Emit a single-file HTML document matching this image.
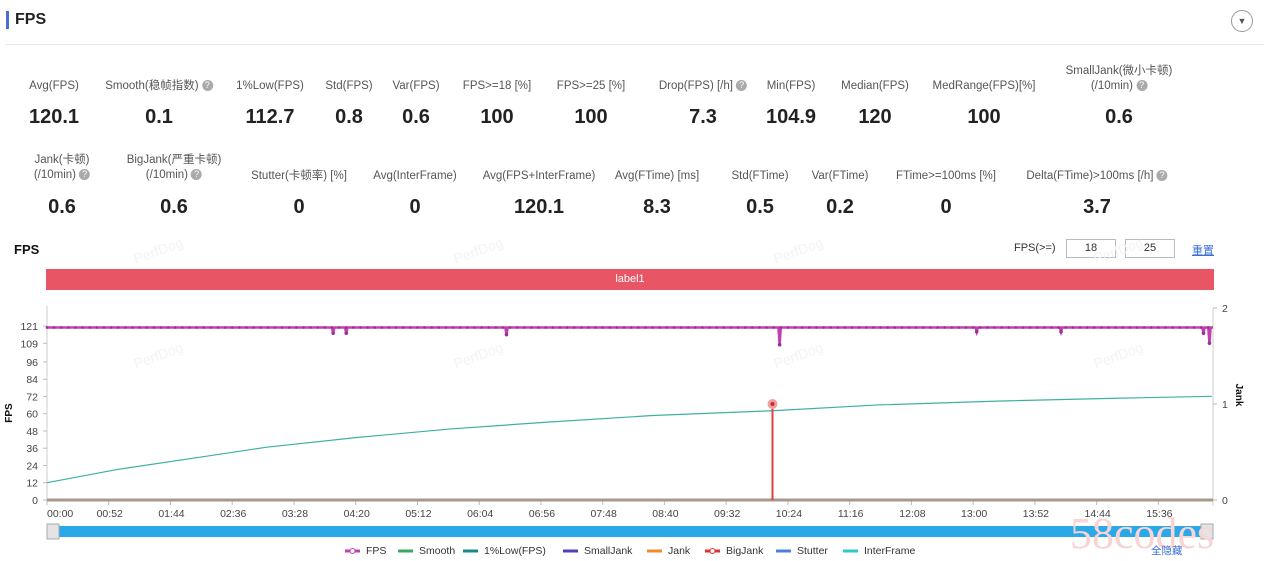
<!DOCTYPE html>
<html><head><meta charset="utf-8"><style>
body{margin:0;width:1271px;height:561px;background:#fff;position:relative;overflow:hidden;font-family:"Liberation Sans","Noto Sans CJK SC",sans-serif;color:#333}
.a{position:absolute;white-space:nowrap;transform:translateX(-50%);text-align:center}
.l{font-size:11.5px;color:#555;line-height:15px}
.v{font-size:20px;font-weight:bold;color:#222}
.q{display:inline-block;width:11px;height:11px;border-radius:50%;background:#aaa;color:#fff;font-size:9px;line-height:11px;text-align:center;vertical-align:middle}
svg{position:absolute;left:0;top:0}
</style></head><body>
<div style="position:absolute;left:6px;top:11px;width:3px;height:18px;background:#4a6fd0"></div>
<div style="position:absolute;left:15px;top:11px;font-size:16px;font-weight:bold;color:#222">FPS</div>
<div style="position:absolute;left:1231px;top:10px;width:20px;height:20px;border:1px solid #999;border-radius:50%;text-align:center;font-size:9px;line-height:20px;color:#555">▼</div>
<div style="position:absolute;left:6px;top:44px;width:1258px;height:1px;background:#e6e6e6"></div>

<div><div class="a l" style="left:54px;top:79px">Avg(FPS)</div><div class="a v" style="left:54px;top:106px">120.1</div></div>
<div><div class="a l" style="left:159px;top:79px">Smooth(稳帧指数) <span class="q">?</span></div><div class="a v" style="left:159px;top:106px">0.1</div></div>
<div><div class="a l" style="left:270px;top:79px">1%Low(FPS)</div><div class="a v" style="left:270px;top:106px">112.7</div></div>
<div><div class="a l" style="left:349px;top:79px">Std(FPS)</div><div class="a v" style="left:349px;top:106px">0.8</div></div>
<div><div class="a l" style="left:416px;top:79px">Var(FPS)</div><div class="a v" style="left:416px;top:106px">0.6</div></div>
<div><div class="a l" style="left:497px;top:79px">FPS&gt;=18 [%]</div><div class="a v" style="left:497px;top:106px">100</div></div>
<div><div class="a l" style="left:591px;top:79px">FPS&gt;=25 [%]</div><div class="a v" style="left:591px;top:106px">100</div></div>
<div><div class="a l" style="left:703px;top:79px">Drop(FPS) [/h] <span class="q">?</span></div><div class="a v" style="left:703px;top:106px">7.3</div></div>
<div><div class="a l" style="left:791px;top:79px">Min(FPS)</div><div class="a v" style="left:791px;top:106px">104.9</div></div>
<div><div class="a l" style="left:875px;top:79px">Median(FPS)</div><div class="a v" style="left:875px;top:106px">120</div></div>
<div><div class="a l" style="left:984px;top:79px">MedRange(FPS)[%]</div><div class="a v" style="left:984px;top:106px">100</div></div>
<div><div class="a l" style="left:1119px;top:64px">SmallJank(微小卡顿)<br>(/10min) <span class="q">?</span></div><div class="a v" style="left:1119px;top:106px">0.6</div></div>

<div><div class="a l" style="left:62px;top:153px">Jank(卡顿)<br>(/10min) <span class="q">?</span></div><div class="a v" style="left:62px;top:196px">0.6</div></div>
<div><div class="a l" style="left:174px;top:153px">BigJank(严重卡顿)<br>(/10min) <span class="q">?</span></div><div class="a v" style="left:174px;top:196px">0.6</div></div>
<div><div class="a l" style="left:299px;top:169px">Stutter(卡顿率) [%]</div><div class="a v" style="left:299px;top:196px">0</div></div>
<div><div class="a l" style="left:415px;top:169px">Avg(InterFrame)</div><div class="a v" style="left:415px;top:196px">0</div></div>
<div><div class="a l" style="left:539px;top:169px">Avg(FPS+InterFrame)</div><div class="a v" style="left:539px;top:196px">120.1</div></div>
<div><div class="a l" style="left:657px;top:169px">Avg(FTime) [ms]</div><div class="a v" style="left:657px;top:196px">8.3</div></div>
<div><div class="a l" style="left:760px;top:169px">Std(FTime)</div><div class="a v" style="left:760px;top:196px">0.5</div></div>
<div><div class="a l" style="left:840px;top:169px">Var(FTime)</div><div class="a v" style="left:840px;top:196px">0.2</div></div>
<div><div class="a l" style="left:946px;top:169px">FTime&gt;=100ms [%]</div><div class="a v" style="left:946px;top:196px">0</div></div>
<div><div class="a l" style="left:1097px;top:169px">Delta(FTime)&gt;100ms [/h] <span class="q">?</span></div><div class="a v" style="left:1097px;top:196px">3.7</div></div>

<div style="position:absolute;left:14px;top:242px;font-size:13px;font-weight:bold;color:#111">FPS</div>
<div style="position:absolute;left:1014px;top:242px;font-size:11px;color:#333">FPS(&gt;=)</div>
<div style="position:absolute;left:1066px;top:239px;width:48px;height:17px;border:1px solid #bbb;font-size:11px;text-align:center;line-height:17px">18</div>
<div style="position:absolute;left:1125px;top:239px;width:48px;height:17px;border:1px solid #bbb;font-size:11px;text-align:center;line-height:17px">25</div>
<div style="position:absolute;left:1192px;top:242px;font-size:11px;color:#3a6fd8;text-decoration:underline">重置</div>
<div style="position:absolute;left:46px;top:269px;width:1168px;height:21px;background:#e85565;color:#fff;font-size:11px;text-align:center;line-height:21px">label1</div>

<svg id="chart" width="1271" height="561"></svg>
<script>
const xTicks=["00:00","00:52","01:44","02:36","03:28","04:20","05:12","06:04","06:56","07:48","08:40","09:32","10:24","11:16","12:08","13:00","13:52","14:44","15:36"];
const yTicks=[0,12,24,36,48,60,72,84,96,109,121];
const jankTicks=[0,1,2];
const fpsDipTimes=[241,252,387,617,783,854,974,979];
const fpsDipValues=[116,116,115,108,117,117,116,109];
const interTimes=[0,60,131,185,260,340,420,510,611,700,800,900,981];
const interValues=[0.18,0.32,0.45,0.55,0.65,0.74,0.81,0.88,0.93,0.99,1.03,1.06,1.08];
const bigJankTimes=[611];
const bigJankValues=[1];
const legendNames=["FPS","Smooth","1%Low(FPS)","SmallJank","Jank","BigJank","Stutter","InterFrame"];
const legendColors=["#c040b0","#3aa860","#1a8a8a","#5040c0","#f08a30","#e03030","#4a80d8","#30c8c8"];

const NS="http://www.w3.org/2000/svg";
const svg=document.getElementById('chart');
const X0=47,X1=1213,Y0=500,YT=326;
const T1=982;
const xs=t=>X0+(X1-X0)*t/T1;
const ys=v=>Y0-(Y0-YT)*v/121;
const yj=v=>Y0-96*v;
function mk(tag,at,parent){const e=document.createElementNS(NS,tag);for(const k in at)e.setAttribute(k,at[k]);(parent||svg).appendChild(e);return e;}

[[160,255],[480,255],[800,255],[1120,255],[160,360],[480,360],[800,360],[1120,360]].forEach(p=>{
const w=mk('text',{x:p[0],y:p[1],fill:'#f3f3f3','font-size':14,transform:`rotate(-20 ${p[0]} ${p[1]})`,'text-anchor':'middle'});


w.textContent='PerfDog';});

const ax=mk('line',{x1:X0,y1:YT-20,x2:X0,y2:Y0,stroke:'#ccc'});


const rax=mk('line',{x1:X1,y1:308,x2:X1,y2:Y0+6,stroke:'#ccc'});


yTicks.forEach(v=>{
const t=mk('text',{x:38,y:ys(v)+4,'font-size':10.5,fill:'#444','text-anchor':'end'});


t.textContent=v;
mk('line',{x1:X0-4,y1:ys(v),x2:X0,y2:ys(v),stroke:'#bbb'});});
jankTicks.forEach(v=>{
const t=mk('text',{x:1222,y:yj(v)+4,'font-size':10.5,fill:'#444'});


t.textContent=v;
mk('line',{x1:X1,y1:yj(v),x2:X1+4,y2:yj(v),stroke:'#bbb'});});
xTicks.forEach((s,i)=>{
const p=xs(i*52);
mk('line',{x1:p,y1:Y0,x2:p,y2:Y0+5,stroke:'#bbb'});
const t=mk('text',{x:i==0?p:p+1,y:517,'font-size':10.5,fill:'#444','text-anchor':i==0?'start':'middle'});


t.textContent=s;});
const yt=mk('text',{x:12,y:413,'font-size':10,'font-weight':'bold',fill:'#111',transform:'rotate(-90 12 413)','text-anchor':'middle'});


yt.textContent='FPS';
const jt=mk('text',{x:1236,y:395,'font-size':10,'font-weight':'bold',fill:'#111',transform:'rotate(90 1236 395)','text-anchor':'middle'});


jt.textContent='Jank';

const base=mk('line',{x1:X0,y1:Y0,x2:X1,y2:Y0,stroke:'#a89a88','stroke-width':3});



const ip=mk('polyline',{points:interTimes.map((t,i)=>xs(t)+','+yj(interValues[i])).join(' '),fill:'none',stroke:'#3fb0a0','stroke-width':1.2});



let pts=[[0,120]];
fpsDipTimes.forEach((t,i)=>{pts.push([t-1,120],[t,fpsDipValues[i]],[t+1,120]);});
pts.push([T1,120]);
pts.sort((a,b)=>a[0]-b[0]);
const fl=mk('polyline',{points:pts.map(p=>xs(p[0])+','+ys(p[1])).join(' '),fill:'none',stroke:'#c040b0','stroke-width':2.5});


for(let t=0;t<=T1;t+=6){mk('circle',{cx:xs(t),cy:ys(120),r:1.3,fill:'#a03090'});}
fpsDipTimes.forEach((t,i)=>{
const c=mk('circle',{cx:xs(t),cy:ys(fpsDipValues[i]),r:1.8,fill:'#a03090'});

});

bigJankTimes.forEach((t,i)=>{
const l=mk('line',{x1:xs(t),y1:Y0,x2:xs(t),y2:yj(bigJankValues[i]),stroke:'#e04040','stroke-width':2});


mk('circle',{cx:xs(t),cy:yj(bigJankValues[i]),r:5,fill:'#f0a0a0'});
const c=mk('circle',{cx:xs(t),cy:yj(bigJankValues[i]),r:2,fill:'#c03030'});

});

const sl=mk('rect',{x:47,y:526,width:1166,height:11,fill:'#2aa8e8'});


[[47],[1201]].forEach(p=>{
const h=mk('rect',{x:p[0],y:524,width:12,height:15,fill:'#e4e4e4',stroke:'#aaa'});

});

const lx=[345,398,463,563,647,705,776,843];
legendNames.forEach((n,i)=>{
const g=mk('g',{});


mk('line',{x1:lx[i],y1:551,x2:lx[i]+15,y2:551,stroke:legendColors[i],'stroke-width':3},g);
if(i==0||i==5)mk('circle',{cx:lx[i]+7.5,cy:551,r:2.5,fill:'#fff',stroke:legendColors[i]},g);
const t=mk('text',{x:lx[i]+21,y:554,'font-size':10.5,fill:'#333'},g);t.textContent=n;});
const wm=mk('text',{x:1070,y:548,'font-size':44,fill:'#f8d4d4','font-family':'Liberation Serif'});


wm.textContent='58codes';
const hide=mk('text',{x:1151,y:554,'font-size':10.5,fill:'#3a6fd8'});


hide.textContent='全隐藏';
</script>
</body></html>
